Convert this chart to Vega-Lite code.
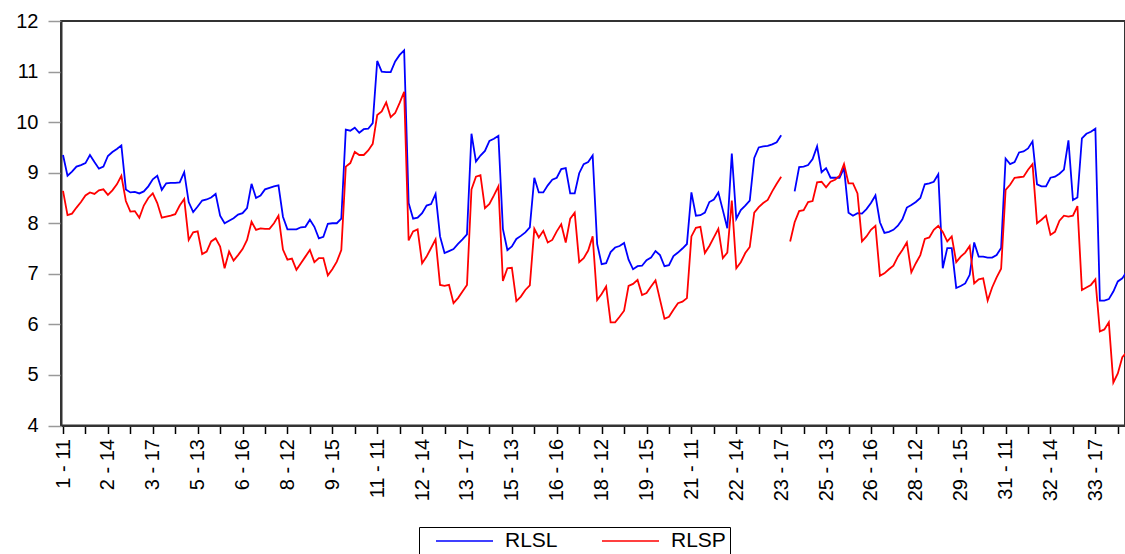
{
  "$schema": "https://vega.github.io/schema/vega-lite/v6.json",
  "width": 1064,
  "height": 404.5,
  "autosize": {"type": "none"},
  "padding": {"left": 61, "top": 21, "right": 0, "bottom": 128.5},
  "background": "white",
  "config": {
    "font": "Liberation Sans",
    "view": {"stroke": "#333333", "strokeWidth": 2}
  },
  "data": {
    "values": [
      {"n":0,"RLSL":9.35,"RLSP":8.64},{"n":1,"RLSL":8.94,"RLSP":8.16},{"n":2,"RLSL":9.02,"RLSP":8.19},{"n":3,"RLSL":9.12,"RLSP":8.31},{"n":4,"RLSL":9.15,"RLSP":8.42},{"n":5,"RLSL":9.19,"RLSP":8.55},{"n":6,"RLSL":9.35,"RLSP":8.61},
      {"n":7,"RLSL":9.21,"RLSP":8.58},{"n":8,"RLSL":9.08,"RLSP":8.65},{"n":9,"RLSL":9.12,"RLSP":8.67},{"n":10,"RLSL":9.33,"RLSP":8.56},{"n":11,"RLSL":9.41,"RLSP":8.65},{"n":12,"RLSL":9.47,"RLSP":8.77},{"n":13,"RLSL":9.54,"RLSP":8.94},
      {"n":14,"RLSL":8.67,"RLSP":8.44},{"n":15,"RLSL":8.61,"RLSP":8.23},{"n":16,"RLSL":8.62,"RLSP":8.24},{"n":17,"RLSL":8.59,"RLSP":8.11},{"n":18,"RLSL":8.63,"RLSP":8.35},{"n":19,"RLSL":8.73,"RLSP":8.50},{"n":20,"RLSL":8.87,"RLSP":8.59},
      {"n":21,"RLSL":8.94,"RLSP":8.40},{"n":22,"RLSL":8.66,"RLSP":8.11},{"n":23,"RLSL":8.79,"RLSP":8.13},{"n":24,"RLSL":8.80,"RLSP":8.15},{"n":25,"RLSL":8.80,"RLSP":8.18},{"n":26,"RLSL":8.81,"RLSP":8.35},{"n":27,"RLSL":9.01,"RLSP":8.48},
      {"n":28,"RLSL":8.42,"RLSP":7.67},{"n":29,"RLSL":8.22,"RLSP":7.82},{"n":30,"RLSL":8.33,"RLSP":7.84},{"n":31,"RLSL":8.45,"RLSP":7.39},{"n":32,"RLSL":8.47,"RLSP":7.44},{"n":33,"RLSL":8.51,"RLSP":7.64},{"n":34,"RLSL":8.58,"RLSP":7.70},
      {"n":35,"RLSL":8.15,"RLSP":7.54},{"n":36,"RLSL":8.00,"RLSP":7.11},{"n":37,"RLSL":8.05,"RLSP":7.44},{"n":38,"RLSL":8.10,"RLSP":7.26},{"n":39,"RLSL":8.17,"RLSP":7.37},{"n":40,"RLSL":8.20,"RLSP":7.49},{"n":41,"RLSL":8.30,"RLSP":7.67},
      {"n":42,"RLSL":8.78,"RLSP":8.03},{"n":43,"RLSL":8.50,"RLSP":7.87},{"n":44,"RLSL":8.55,"RLSP":7.90},{"n":45,"RLSL":8.67,"RLSP":7.89},{"n":46,"RLSL":8.70,"RLSP":7.89},{"n":47,"RLSL":8.73,"RLSP":8.00},{"n":48,"RLSL":8.75,"RLSP":8.15},
      {"n":49,"RLSL":8.13,"RLSP":7.48},{"n":50,"RLSL":7.88,"RLSP":7.28},{"n":51,"RLSL":7.88,"RLSP":7.30},{"n":52,"RLSL":7.88,"RLSP":7.08},{"n":53,"RLSL":7.92,"RLSP":7.21},{"n":54,"RLSL":7.93,"RLSP":7.34},{"n":55,"RLSL":8.07,"RLSP":7.47},
      {"n":56,"RLSL":7.93,"RLSP":7.23},{"n":57,"RLSL":7.70,"RLSP":7.31},{"n":58,"RLSL":7.73,"RLSP":7.31},{"n":59,"RLSL":7.99,"RLSP":6.97},{"n":60,"RLSL":8.00,"RLSP":7.09},{"n":61,"RLSL":8.00,"RLSP":7.24},{"n":62,"RLSL":8.09,"RLSP":7.47},
      {"n":63,"RLSL":9.85,"RLSP":9.12},{"n":64,"RLSL":9.83,"RLSP":9.19},{"n":65,"RLSL":9.89,"RLSP":9.41},{"n":66,"RLSL":9.79,"RLSP":9.35},{"n":67,"RLSL":9.86,"RLSP":9.35},{"n":68,"RLSL":9.87,"RLSP":9.44},{"n":69,"RLSL":9.98,"RLSP":9.57},
      {"n":70,"RLSL":11.21,"RLSP":10.14},{"n":71,"RLSL":11.00,"RLSP":10.21},{"n":72,"RLSL":10.99,"RLSP":10.39},{"n":73,"RLSL":10.99,"RLSP":10.10},{"n":74,"RLSL":11.20,"RLSP":10.18},{"n":75,"RLSL":11.33,"RLSP":10.38},{"n":76,"RLSL":11.42,"RLSP":10.60},
      {"n":77,"RLSL":8.40,"RLSP":7.66},{"n":78,"RLSL":8.09,"RLSP":7.84},{"n":79,"RLSL":8.11,"RLSP":7.88},{"n":80,"RLSL":8.20,"RLSP":7.21},{"n":81,"RLSL":8.35,"RLSP":7.34},{"n":82,"RLSL":8.38,"RLSP":7.51},{"n":83,"RLSL":8.58,"RLSP":7.68},
      {"n":84,"RLSL":7.74,"RLSP":6.78},{"n":85,"RLSL":7.41,"RLSP":6.76},{"n":86,"RLSL":7.45,"RLSP":6.78},{"n":87,"RLSL":7.49,"RLSP":6.42},{"n":88,"RLSL":7.59,"RLSP":6.52},{"n":89,"RLSL":7.68,"RLSP":6.65},{"n":90,"RLSL":7.78,"RLSP":6.78},
      {"n":91,"RLSL":9.77,"RLSP":8.67},{"n":92,"RLSL":9.22,"RLSP":8.92},{"n":93,"RLSL":9.34,"RLSP":8.95},{"n":94,"RLSL":9.43,"RLSP":8.30},{"n":95,"RLSL":9.63,"RLSP":8.38},{"n":96,"RLSL":9.67,"RLSP":8.55},{"n":97,"RLSL":9.73,"RLSP":8.73},
      {"n":98,"RLSL":7.89,"RLSP":6.86},{"n":99,"RLSL":7.47,"RLSP":7.11},{"n":100,"RLSL":7.54,"RLSP":7.12},{"n":101,"RLSL":7.69,"RLSP":6.46},{"n":102,"RLSL":7.75,"RLSP":6.55},{"n":103,"RLSL":7.82,"RLSP":6.68},{"n":104,"RLSL":7.92,"RLSP":6.77},
      {"n":105,"RLSL":8.90,"RLSP":7.89},{"n":106,"RLSL":8.61,"RLSP":7.72},{"n":107,"RLSL":8.61,"RLSP":7.85},{"n":108,"RLSL":8.75,"RLSP":7.62},{"n":109,"RLSL":8.86,"RLSP":7.67},{"n":110,"RLSL":8.90,"RLSP":7.84},{"n":111,"RLSL":9.07,"RLSP":7.98},
      {"n":112,"RLSL":9.09,"RLSP":7.62},{"n":113,"RLSL":8.59,"RLSP":8.09},{"n":114,"RLSL":8.59,"RLSP":8.21},{"n":115,"RLSL":8.99,"RLSP":7.23},{"n":116,"RLSL":9.17,"RLSP":7.31},{"n":117,"RLSL":9.21,"RLSP":7.46},{"n":118,"RLSL":9.34,"RLSP":7.74},
      {"n":119,"RLSL":7.59,"RLSP":6.48},{"n":120,"RLSL":7.19,"RLSP":6.60},{"n":121,"RLSL":7.21,"RLSP":6.75},{"n":122,"RLSL":7.43,"RLSP":6.04},{"n":123,"RLSL":7.52,"RLSP":6.04},{"n":124,"RLSL":7.55,"RLSP":6.15},{"n":125,"RLSL":7.61,"RLSP":6.27},
      {"n":126,"RLSL":7.28,"RLSP":6.76},{"n":127,"RLSL":7.09,"RLSP":6.80},{"n":128,"RLSL":7.15,"RLSP":6.88},{"n":129,"RLSL":7.16,"RLSP":6.58},{"n":130,"RLSL":7.27,"RLSP":6.62},{"n":131,"RLSL":7.32,"RLSP":6.75},{"n":132,"RLSL":7.45,"RLSP":6.87},
      {"n":133,"RLSL":7.37,"RLSP":6.49},{"n":134,"RLSL":7.15,"RLSP":6.11},{"n":135,"RLSL":7.17,"RLSP":6.15},{"n":136,"RLSL":7.35,"RLSP":6.29},{"n":137,"RLSL":7.42,"RLSP":6.42},{"n":138,"RLSL":7.50,"RLSP":6.45},{"n":139,"RLSL":7.59,"RLSP":6.52},
      {"n":140,"RLSL":8.61,"RLSP":7.74},{"n":141,"RLSL":8.15,"RLSP":7.91},{"n":142,"RLSL":8.16,"RLSP":7.93},{"n":143,"RLSL":8.21,"RLSP":7.41},{"n":144,"RLSL":8.42,"RLSP":7.55},{"n":145,"RLSL":8.47,"RLSP":7.72},{"n":146,"RLSL":8.61,"RLSP":7.89},
      {"n":147,"RLSL":8.26,"RLSP":7.31},{"n":148,"RLSL":7.90,"RLSP":7.42},{"n":149,"RLSL":9.38,"RLSP":8.45},{"n":150,"RLSL":8.09,"RLSP":7.11},{"n":151,"RLSL":8.26,"RLSP":7.23},{"n":152,"RLSL":8.35,"RLSP":7.41},{"n":153,"RLSL":8.45,"RLSP":7.53},
      {"n":154,"RLSL":9.29,"RLSP":8.21},{"n":155,"RLSL":9.50,"RLSP":8.32},{"n":156,"RLSL":9.52,"RLSP":8.40},{"n":157,"RLSL":9.53,"RLSP":8.46},{"n":158,"RLSL":9.56,"RLSP":8.63},{"n":159,"RLSL":9.60,"RLSP":8.78},{"n":160,"RLSL":9.74,"RLSP":8.92},
      {"n":161,"RLSL":null,"RLSP":null},{"n":162,"RLSL":null,"RLSP":7.64},{"n":163,"RLSL":8.63,"RLSP":8.02},{"n":164,"RLSL":9.11,"RLSP":8.24},{"n":165,"RLSL":9.12,"RLSP":8.26},{"n":166,"RLSL":9.15,"RLSP":8.42},{"n":167,"RLSL":9.27,"RLSP":8.44},
      {"n":168,"RLSL":9.52,"RLSP":8.81},{"n":169,"RLSL":9.01,"RLSP":8.82},{"n":170,"RLSL":9.09,"RLSP":8.71},{"n":171,"RLSL":8.90,"RLSP":8.82},{"n":172,"RLSL":8.90,"RLSP":8.86},{"n":173,"RLSL":8.90,"RLSP":8.94},{"n":174,"RLSL":9.09,"RLSP":9.17},
      {"n":175,"RLSL":8.21,"RLSP":8.79},{"n":176,"RLSL":8.15,"RLSP":8.79},{"n":177,"RLSL":8.20,"RLSP":8.59},{"n":178,"RLSL":8.19,"RLSP":7.64},{"n":179,"RLSL":8.28,"RLSP":7.74},{"n":180,"RLSL":8.40,"RLSP":7.87},{"n":181,"RLSL":8.55,"RLSP":7.95},
      {"n":182,"RLSL":8.02,"RLSP":6.96},{"n":183,"RLSL":7.81,"RLSP":7.01},{"n":184,"RLSL":7.83,"RLSP":7.09},{"n":185,"RLSL":7.87,"RLSP":7.16},{"n":186,"RLSL":7.95,"RLSP":7.34},{"n":187,"RLSL":8.08,"RLSP":7.47},{"n":188,"RLSL":8.31,"RLSP":7.62},
      {"n":189,"RLSL":8.36,"RLSP":7.03},{"n":190,"RLSL":8.42,"RLSP":7.21},{"n":191,"RLSL":8.50,"RLSP":7.37},{"n":192,"RLSL":8.77,"RLSP":7.69},{"n":193,"RLSL":8.79,"RLSP":7.72},{"n":194,"RLSL":8.82,"RLSP":7.87},{"n":195,"RLSL":8.97,"RLSP":7.95},
      {"n":196,"RLSL":7.11,"RLSP":7.83},{"n":197,"RLSL":7.51,"RLSP":7.64},{"n":198,"RLSL":7.51,"RLSP":7.74},{"n":199,"RLSL":6.72,"RLSP":7.23},{"n":200,"RLSL":6.76,"RLSP":7.34},{"n":201,"RLSL":6.81,"RLSP":7.42},{"n":202,"RLSL":6.98,"RLSP":7.55},
      {"n":203,"RLSL":7.62,"RLSP":6.81},{"n":204,"RLSL":7.34,"RLSP":6.89},{"n":205,"RLSL":7.34,"RLSP":6.91},{"n":206,"RLSL":7.32,"RLSP":6.47},{"n":207,"RLSL":7.32,"RLSP":6.73},{"n":208,"RLSL":7.37,"RLSP":6.93},{"n":209,"RLSL":7.51,"RLSP":7.10},
      {"n":210,"RLSL":9.28,"RLSP":8.66},{"n":211,"RLSL":9.17,"RLSP":8.76},{"n":212,"RLSL":9.21,"RLSP":8.90},{"n":213,"RLSL":9.40,"RLSP":8.91},{"n":214,"RLSL":9.42,"RLSP":8.92},{"n":215,"RLSL":9.48,"RLSP":9.06},{"n":216,"RLSL":9.62,"RLSP":9.17},
      {"n":217,"RLSL":8.77,"RLSP":8.00},{"n":218,"RLSL":8.73,"RLSP":8.07},{"n":219,"RLSL":8.73,"RLSP":8.15},{"n":220,"RLSL":8.90,"RLSP":7.77},{"n":221,"RLSL":8.92,"RLSP":7.83},{"n":222,"RLSL":8.98,"RLSP":8.05},{"n":223,"RLSL":9.06,"RLSP":8.15},
      {"n":224,"RLSL":9.64,"RLSP":8.13},{"n":225,"RLSL":8.46,"RLSP":8.15},{"n":226,"RLSL":8.51,"RLSP":8.34},{"n":227,"RLSL":9.68,"RLSP":6.68},{"n":228,"RLSL":9.77,"RLSP":6.73},{"n":229,"RLSL":9.81,"RLSP":6.78},{"n":230,"RLSL":9.87,"RLSP":6.89},
      {"n":231,"RLSL":6.47,"RLSP":5.86},{"n":232,"RLSL":6.47,"RLSP":5.90},{"n":233,"RLSL":6.50,"RLSP":6.04},{"n":234,"RLSL":6.65,"RLSP":4.85},{"n":235,"RLSL":6.85,"RLSP":5.03},{"n":236,"RLSL":6.91,"RLSP":5.35},{"n":237,"RLSL":7.05,"RLSP":5.45}
    ]
  },
  "transform": [{"fold": ["RLSL", "RLSP"], "as": ["series", "value"]}],
  "mark": {"type": "line", "strokeWidth": 1.8, "clip": true, "invalid": "break-paths-filter-domains"},
  "encoding": {
    "x": {
      "field": "n",
      "type": "quantitative",
      "scale": {"domain": [-0.45, 236.6], "nice": false, "zero": false},
      "axis": {
        "title": null,
        "grid": false,
        "values": [0,5,10,15,20,25,30,35,40,45,50,55,60,65,70,75,80,85,90,95,100,105,110,115,120,125,130,135,140,145,150,155,160,165,170,175,180,185,190,195,200,205,210,215,220,225,230,235],
        "labelExpr": "datum.value % 10 == 0 ? (floor(datum.value / 7) + 1) + ' - ' + (11 + datum.value % 7) : ''",
        "labelAngle": -90,
        "labelFont": "Liberation Sans",
        "labelFontSize": 20,
        "labelColor": "#000000",
        "labelPadding": 5,
        "labelOverlap": false,
        "labelFlush": false,
        "labelBound": false,
        "tickColor": "#000000",
        "tickSize": 8,
        "tickWidth": 1.5,
        "domainColor": "#333333",
        "domainWidth": 2
      }
    },
    "y": {
      "field": "value",
      "type": "quantitative",
      "scale": {"domain": [4, 12], "nice": false, "zero": false},
      "axis": {
        "title": null,
        "grid": false,
        "values": [4,5,6,7,8,9,10,11,12],
        "labelFont": "Liberation Sans",
        "labelFontSize": 20,
        "labelColor": "#000000",
        "labelPadding": 10,
        "labelFlush": false,
        "tickColor": "#999999",
        "tickSize": 13,
        "tickWidth": 1.5,
        "domainColor": "#333333",
        "domainWidth": 2
      }
    },
    "color": {
      "field": "series",
      "type": "nominal",
      "scale": {"domain": ["RLSL", "RLSP"], "range": ["#0000ff", "#ff0000"]},
      "legend": {
        "title": null,
        "orient": "none",
        "legendX": 358,
        "legendY": 506,
        "direction": "horizontal",
        "symbolType": "stroke",
        "symbolSize": 3249,
        "symbolStrokeWidth": 1.5,
        "clipHeight": 20,
        "padding": 4,
        "symbolOffset": 12,
        "labelOffset": 11,
        "columnPadding": 31,
        "labelFont": "Liberation Sans",
        "labelFontSize": 21,
        "labelColor": "#000000",
        "strokeColor": "#000000"
      }
    }
  }
}
